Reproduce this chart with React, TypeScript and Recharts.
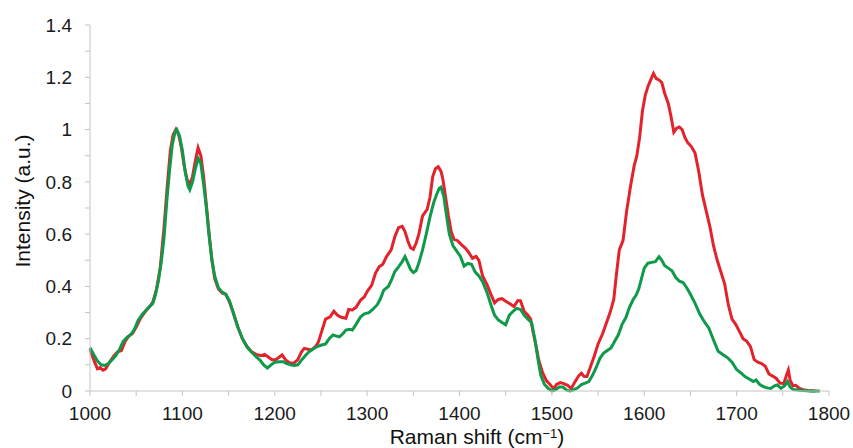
import React from 'react'
import { LineChart, Line, XAxis, YAxis } from 'recharts'

// Raman spectra: shift (cm-1) and normalised intensity
const redShift = [
  1000, 1004, 1008, 1011, 1014, 1017, 1021, 1026, 1030, 1034, 1038, 1042, 1046, 1050, 1055, 1060,
  1065, 1068, 1072, 1076, 1080, 1084, 1087, 1090, 1093, 1096, 1099, 1102, 1105, 1108, 1111, 1114,
  1117, 1120, 1123, 1126, 1129, 1132, 1135, 1139, 1143, 1147, 1151, 1155, 1160, 1165, 1170, 1175,
  1180, 1185, 1189, 1193, 1197, 1201, 1205, 1208, 1212, 1216, 1220, 1225, 1229, 1232, 1236, 1240,
  1244, 1247, 1251, 1255, 1260, 1264, 1268, 1272, 1277, 1280, 1284, 1288, 1293, 1297, 1300, 1305,
  1309, 1313, 1317, 1321, 1326, 1330, 1334, 1338, 1341, 1344, 1347, 1350, 1353, 1356, 1360, 1365,
  1368, 1371, 1374, 1377, 1380, 1382, 1385, 1388, 1391, 1394, 1398, 1402, 1406, 1410, 1414, 1418,
  1421, 1425, 1430, 1434, 1438, 1442, 1446, 1450, 1455, 1459, 1463, 1466, 1470, 1474, 1477, 1480,
  1483, 1486, 1490, 1494, 1498, 1502, 1505, 1509, 1513, 1517, 1521, 1525, 1529, 1532, 1535, 1538,
  1542, 1546, 1550, 1555, 1559, 1563, 1567, 1570, 1573, 1577, 1581, 1585, 1589, 1592, 1595, 1598,
  1601, 1604, 1607, 1610, 1613, 1616, 1619, 1622, 1626, 1629, 1632, 1635, 1638, 1641, 1644, 1647,
  1651, 1655, 1659, 1663, 1667, 1671, 1675, 1679, 1683, 1687, 1691, 1695, 1699, 1703, 1707, 1711,
  1715, 1719, 1723, 1727, 1731, 1735, 1739, 1743, 1747, 1751, 1754, 1756, 1758, 1761, 1764, 1768,
  1772, 1777, 1785,
]
const redIntensity = [
  0.16, 0.12, 0.085, 0.09, 0.08, 0.085, 0.11, 0.135, 0.15, 0.155, 0.19, 0.21, 0.22, 0.245, 0.28, 0.305,
  0.325, 0.34, 0.39, 0.47, 0.62, 0.8, 0.92, 0.98, 1.0, 0.98, 0.93, 0.86, 0.81, 0.79, 0.82, 0.88,
  0.93, 0.9, 0.82, 0.71, 0.6, 0.5, 0.43, 0.39, 0.375, 0.37, 0.34, 0.3, 0.245, 0.2, 0.17, 0.15,
  0.14, 0.135, 0.14, 0.13, 0.12, 0.12, 0.13, 0.138, 0.118, 0.108, 0.105, 0.12, 0.15, 0.163, 0.16, 0.157,
  0.17, 0.185, 0.23, 0.275, 0.284, 0.305, 0.29, 0.282, 0.278, 0.312, 0.31, 0.32, 0.348, 0.36, 0.38, 0.405,
  0.45, 0.475, 0.485, 0.514, 0.54, 0.59, 0.625, 0.63, 0.61, 0.575, 0.548, 0.542, 0.565, 0.6, 0.67, 0.695,
  0.74, 0.82, 0.85, 0.858, 0.84, 0.81, 0.74, 0.67, 0.61, 0.58, 0.575, 0.56, 0.548, 0.53, 0.508, 0.515,
  0.5, 0.44, 0.405, 0.37, 0.337, 0.35, 0.353, 0.343, 0.333, 0.323, 0.345, 0.345, 0.305, 0.29, 0.275, 0.22,
  0.17, 0.115, 0.07, 0.04, 0.025, 0.008, 0.025, 0.032, 0.028, 0.022, 0.01, 0.035, 0.058, 0.068, 0.055, 0.055,
  0.095, 0.135, 0.18, 0.22, 0.26, 0.3, 0.35, 0.45, 0.54, 0.575, 0.69, 0.78, 0.86, 0.9, 0.97, 1.07,
  1.13, 1.165, 1.19, 1.215, 1.195, 1.19, 1.18, 1.14, 1.1, 1.05, 0.99, 1.005, 1.01, 1.0, 0.97, 0.95,
  0.935, 0.91, 0.84, 0.75, 0.69, 0.63, 0.555, 0.5, 0.455, 0.41, 0.33, 0.275, 0.255, 0.228, 0.2, 0.19,
  0.17, 0.12, 0.11, 0.105, 0.095, 0.065, 0.057, 0.048, 0.03, 0.028, 0.06, 0.08, 0.04, 0.02, 0.022, 0.01,
  0.005, 0.002, 0,
]

const greenShift = [
  1000, 1004, 1008, 1012, 1016, 1020, 1024, 1028, 1032, 1036, 1040, 1044, 1048, 1052, 1057, 1061,
  1065, 1068, 1071, 1074, 1077, 1080, 1083, 1086, 1089, 1092, 1094, 1097, 1100, 1103, 1106, 1108,
  1111, 1114, 1117, 1120, 1123, 1126, 1129, 1132, 1135, 1139, 1143, 1147, 1151, 1155, 1160, 1165,
  1170, 1175, 1180, 1184, 1188, 1192, 1196, 1200, 1205, 1209, 1213, 1217, 1221, 1225, 1229, 1233,
  1237, 1241, 1246, 1250, 1255, 1259, 1263, 1267, 1270, 1274, 1277, 1281, 1284, 1288, 1293, 1297,
  1302, 1306, 1311, 1314, 1318, 1323, 1327, 1330, 1334, 1338, 1341, 1344, 1347, 1350, 1353, 1356,
  1360, 1364, 1368, 1372, 1375, 1378, 1380, 1383, 1386, 1389, 1393, 1397, 1401, 1405, 1409, 1413,
  1417, 1421, 1425, 1430, 1434, 1438, 1442, 1446, 1450, 1454, 1458, 1462, 1466, 1470, 1474, 1478,
  1482, 1485, 1488, 1492, 1496, 1500, 1504, 1508, 1512, 1516, 1520, 1524, 1528, 1532, 1536, 1540,
  1544, 1548, 1552, 1556, 1560, 1564, 1568, 1572, 1576, 1580, 1584, 1588, 1591, 1594, 1597, 1600,
  1604, 1608, 1612, 1616, 1619, 1622, 1626, 1630, 1634, 1638, 1642, 1646, 1650, 1655, 1660, 1665,
  1670, 1675, 1680, 1685, 1690, 1695, 1700, 1705, 1709, 1714, 1718, 1721, 1725, 1729, 1733, 1737,
  1741, 1744, 1748, 1752, 1755, 1758, 1761, 1766, 1772, 1780, 1790,
]
const greenIntensity = [
  0.166, 0.14, 0.115, 0.1, 0.098, 0.105, 0.12, 0.135, 0.16, 0.19, 0.205, 0.215, 0.235, 0.27, 0.295, 0.31,
  0.325, 0.335, 0.37, 0.42, 0.49, 0.58, 0.72, 0.84, 0.94, 0.99, 1.0, 0.975, 0.92, 0.84, 0.785, 0.77,
  0.8, 0.85, 0.89, 0.87, 0.79, 0.7, 0.59, 0.5, 0.44, 0.395, 0.378, 0.37, 0.345, 0.3, 0.245, 0.2,
  0.168, 0.148, 0.13, 0.118, 0.1, 0.088, 0.1, 0.11, 0.112, 0.112, 0.105, 0.1, 0.098, 0.1, 0.118, 0.135,
  0.15, 0.16, 0.17, 0.175, 0.18, 0.2, 0.214, 0.21, 0.207, 0.22, 0.233, 0.236, 0.233, 0.255, 0.284, 0.295,
  0.3, 0.312, 0.33, 0.35, 0.386, 0.4, 0.43, 0.457, 0.475, 0.495, 0.514, 0.49, 0.465, 0.453, 0.46, 0.49,
  0.54, 0.6, 0.665, 0.72, 0.75, 0.775, 0.78, 0.745, 0.67, 0.6, 0.555, 0.535, 0.515, 0.478, 0.488, 0.485,
  0.455, 0.44, 0.418, 0.375, 0.33, 0.29, 0.272, 0.262, 0.253, 0.29, 0.305, 0.316, 0.312, 0.29, 0.275, 0.262,
  0.19, 0.12, 0.06, 0.025, 0.01, 0.0, 0.005, 0.015, 0.015, 0.003, 0.0, 0.005, 0.012, 0.025, 0.03, 0.036,
  0.06, 0.09, 0.125, 0.145, 0.155, 0.165, 0.19, 0.215, 0.255, 0.28, 0.32, 0.35, 0.365, 0.39, 0.43, 0.47,
  0.489, 0.492, 0.495, 0.514, 0.5, 0.48, 0.47, 0.46, 0.435, 0.42, 0.415, 0.395, 0.37, 0.335, 0.295, 0.265,
  0.24, 0.195, 0.152, 0.14, 0.128, 0.11, 0.082, 0.068, 0.055, 0.045, 0.036, 0.042, 0.025, 0.017, 0.012, 0.01,
  0.02, 0.023, 0.01, 0.02, 0.036, 0.015, 0.006, 0.004, 0.002, 0, 0,
]

const xTicks = [
  1000, 1050, 1100, 1150, 1200, 1250, 1300, 1350, 1400, 1450, 1500, 1550, 1600, 1650, 1700, 1750, 1800,
]
const yTicks = [0, 0.1, 0.2, 0.3, 0.4, 0.5, 0.6, 0.7, 0.8, 0.9, 1, 1.1, 1.2, 1.3, 1.4]

const RED = '#e3232b'
const GREEN = '#0e9a4a'
const AXIS = '#c4c4c4'
const FONT = '"Liberation Sans", Arial, sans-serif'

const redData = redShift.map((x, i) => ({ x, v: redIntensity[i] }))
const greenData = greenShift.map((x, i) => ({ x, v: greenIntensity[i] }))

function XTick({ x, y, payload }: any) {
  if (payload.value % 100 !== 0) return <g />
  return (
    <text x={x} y={y} dy="0.71em" textAnchor="middle" fontSize={19} fill="#1a1a1a" fontFamily={FONT}>
      {payload.value}
    </text>
  )
}

function YTick({ x, y, payload }: any) {
  const tenths = Math.round(payload.value * 10)
  if (tenths % 2 !== 0) return <g />
  return (
    <text x={x} y={y} dy="0.355em" textAnchor="end" fontSize={19} fill="#1a1a1a" fontFamily={FONT}>
      {String(tenths / 10)}
    </text>
  )
}

export default function App() {
  return (
    <div style={{ position: 'absolute', left: 0, top: 0, width: 853, height: 448, background: '#fff' }}>
      <LineChart width={853} height={448} margin={{ top: 25, right: 24, bottom: 27, left: 0 }}>
        <XAxis
          type="number"
          dataKey="x"
          domain={[1000, 1800]}
          ticks={xTicks}
          interval={0}
          stroke={AXIS}
          tickSize={5}
          tickMargin={11}
          height={30}
          tick={<XTick />}
          allowDuplicatedCategory={false}
        />
        <YAxis
          type="number"
          domain={[0, 1.4]}
          ticks={yTicks}
          interval={0}
          stroke={AXIS}
          tickSize={5}
          tickMargin={13}
          width={90}
          tick={<YTick />}
        />
        <Line
          data={redData}
          dataKey="v"
          type="linear"
          stroke={RED}
          strokeWidth={3}
          dot={false}
          isAnimationActive={false}
        />
        <Line
          data={greenData}
          dataKey="v"
          type="linear"
          stroke={GREEN}
          strokeWidth={3}
          dot={false}
          isAnimationActive={false}
        />
      </LineChart>
      <svg
        width={853}
        height={448}
        style={{ position: 'absolute', left: 0, top: 0, pointerEvents: 'none' }}
      >
        <text
          x={30}
          y={201}
          transform="rotate(-90, 30, 201)"
          textAnchor="middle"
          fontSize={21}
          fill="#111"
          fontFamily={FONT}
        >
          Intensity (a.u.)
        </text>
        <text x={477} y={444} textAnchor="middle" fontSize={21} fill="#111" fontFamily={FONT}>
          Raman shift (cm
          <tspan dy={-6} fontSize={13}>
            −1
          </tspan>
          <tspan dy={6}>)</tspan>
        </text>
      </svg>
    </div>
  )
}
